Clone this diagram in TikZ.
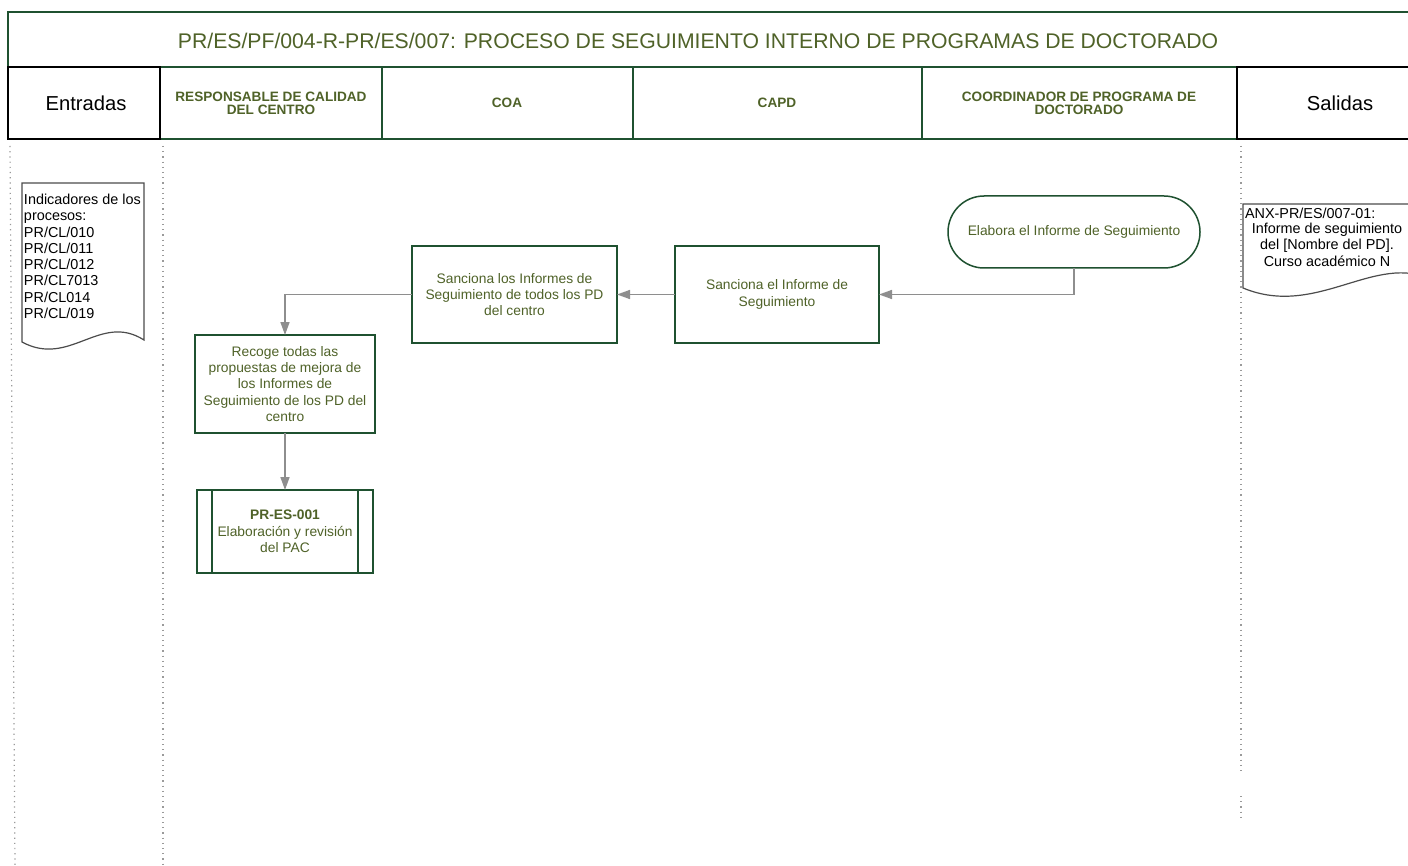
\documentclass[tikz,border=0pt]{standalone}
\usepackage{fontspec}
\setmainfont{Liberation Sans}
\usetikzlibrary{positioning,calc}
\usetikzlibrary{arrows.meta}

\definecolor{txtgreen}{HTML}{4F6228}
\definecolor{boxgreen}{HTML}{1F5130}
\definecolor{flowgray}{HTML}{8E8E8E}
\definecolor{lanegray}{HTML}{9A9A9A}

\begin{document}
\begin{tikzpicture}[x=0.5pt,y=-0.5pt]

\tikzstyle{every node}=[inner sep=0pt, outer sep=0pt]
\tikzstyle{task} = [rectangle, draw=boxgreen, line width=0.75pt, text=txtgreen, align=center, font=\fontsize{6.9}{8.2}\selectfont]
\tikzstyle{doc} = [draw=black!70, line width=0.6pt, fill=white]
\tikzstyle{doctext} = [text=black, font=\fontsize{7.2}{8.15}\selectfont]
\tikzstyle{head} = [text=txtgreen, align=center, font=\fontsize{6.8}{6.6}\selectfont\bfseries]
\tikzstyle{flow} = [draw=flowgray, line width=0.75pt, -{Triangle[length=6.5pt,width=4.5pt]}]
\tikzstyle{lane} = [draw=lanegray, line width=0.6pt, dotted]

\fill[white] (0,0) rectangle (1408,866);
\useasboundingbox (0,0) rectangle (1408,866);
\clip (0,0) rectangle (1408,866);

% title and lane headers
\draw[boxgreen, line width=0.8pt] (8,12) rectangle (1440,139);
\draw[boxgreen, line width=0.8pt] (8,67) -- (1440,67);
\node[text=txtgreen, font=\fontsize{10.6}{12}\selectfont] (title) at (698,41) {PR/ES/PF/004-R-PR/ES/007: PROCESO DE SEGUIMIENTO INTERNO DE PROGRAMAS DE DOCTORADO};

\foreach \x in {382,633,922} {
    \draw[boxgreen, line width=0.8pt] (\x,67) -- (\x,139);
}
\draw[black, line width=0.8pt] (8,67) rectangle (160,139);
\draw[black, line width=0.8pt] (1237,67) rectangle (1440,139);

\node[font=\fontsize{10.1}{11}\selectfont] (entradas) at (86,103) {Entradas};
\node[font=\fontsize{10.1}{11}\selectfont] (salidas) at (1340,103) {Salidas};

\foreach \cx/\txt/\nm in {271/{RESPONSABLE DE CALIDAD\\DEL CENTRO}/resp, 507/{COA}/coa, 777/{CAPD}/capd, 1079/{COORDINADOR DE PROGRAMA DE\\DOCTORADO}/coord} {
    \node[head] (lane\nm) at (\cx,103) {\txt};
}

% lanes
\draw[lane] (10,146) -- (15,866);
\draw[lane] (163,146) -- (163,866);
\draw[lane] (1241,146) -- (1241,775);
\draw[lane] (1241,796) -- (1241,820);

% entradas / salidas
\draw[doc] (22,183) -- (144,183) -- (144,340) .. controls (100,312) and (70,368) .. (22,342) -- cycle;
\node[doctext, anchor=north west, align=left] (indic) at (24,194) {Indicadores de los\\procesos:\\PR/CL/010\\PR/CL/011\\PR/CL/012\\PR/CL7013\\PR/CL014\\PR/CL/019};

\draw[doc] (1243,204) -- (1440,204) -- (1440,284) .. controls (1380,246) and (1320,320) .. (1243,288) -- cycle;
\node[doctext, anchor=north west] (anx) at (1245,208) {ANX-PR/ES/007-01:};
\node[doctext, anchor=north, align=center] (informe) at (1327,223) {Informe de seguimiento\\del [Nombre del PD].\\Curso acad\'emico N};

% activities
\node[task, rounded corners=18pt, minimum width=126pt, minimum height=36pt] (elabora) at (1074,232) {Elabora el Informe de Seguimiento};
\node[task, minimum width=102pt, minimum height=48.5pt] (sanel) at (777,294.5) {Sanciona el Informe de\\Seguimiento};
\node[task, minimum width=102.5pt, minimum height=48.5pt] (todos) at (514.5,294.5) {Sanciona los Informes de\\Seguimiento de todos los PD\\del centro};
\node[task, minimum width=90pt, minimum height=49pt] (recoge) at (285,384) {Recoge todas las\\propuestas de mejora de\\los Informes de\\Seguimiento de los PD del\\centro};
\node[task, minimum width=88pt, minimum height=41.5pt] (pac) at (285,531.5) {\textbf{PR-ES-001}\\Elaboraci\'on y revisi\'on\\del PAC};
\draw[boxgreen, line width=0.75pt] ($(pac.north west)+(15,0)$) -- ($(pac.south west)+(15,0)$);
\draw[boxgreen, line width=0.75pt] ($(pac.north east)+(-15,0)$) -- ($(pac.south east)+(-15,0)$);

% flow
\draw[flow] (elabora.south) |- (sanel.east);
\draw[flow] (sanel.west) -- (todos.east);
\draw[flow] (todos.west) -| (recoge.north);
\draw[flow] (recoge.south) -- (pac.north);

\end{tikzpicture}
\end{document}
